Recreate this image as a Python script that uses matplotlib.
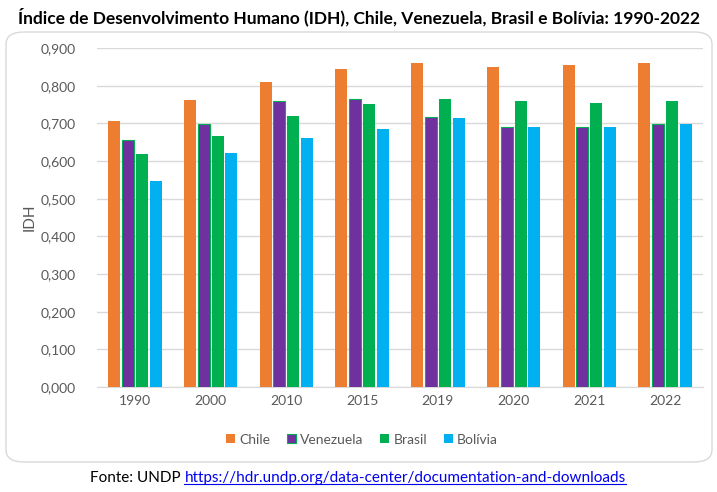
import matplotlib.pyplot as plt
import numpy as np
from matplotlib.patches import FancyBboxPatch
from matplotlib.ticker import FuncFormatter

plt.rcParams['font.family'] = ['Lato', 'DejaVu Sans']

# IDH values
anos = ['1990', '2000', '2010', '2015', '2019', '2020', '2021', '2022']
chile = [0.706, 0.762, 0.810, 0.845, 0.859, 0.850, 0.856, 0.860]
venezuela = [0.656, 0.698, 0.758, 0.765, 0.717, 0.691, 0.689, 0.699]
brasil = [0.619, 0.667, 0.720, 0.752, 0.764, 0.758, 0.755, 0.760]
bolivia = [0.546, 0.622, 0.660, 0.686, 0.713, 0.689, 0.689, 0.697]
paises = ['Chile', 'Venezuela', 'Brasil', 'Bolívia']

CORES = {
    'Chile': '#ED7D31',
    'Venezuela': '#7030A0',
    'Brasil': '#00B050',
    'Bolívia': '#00B0F0',
}

fig = plt.figure(figsize=(7.17, 4.92), dpi=100)
fig.patch.set_facecolor('white')

# rounded chart frame
frame = FancyBboxPatch((6 / 717, 1 - 462 / 492), 706 / 717, 430 / 492,
                       boxstyle='round,pad=0,rounding_size=0.025',
                       transform=fig.transFigure, facecolor='none',
                       edgecolor='#d9d9d9', linewidth=1.0, zorder=-1)
fig.patches.append(frame)

ax = fig.add_axes([97 / 717, 1 - 387 / 492, 606 / 717, 339 / 492])
ax.set_facecolor('none')

x = np.arange(len(anos))
w = 0.158
step = 0.183
series = [chile, venezuela, brasil, bolivia]
for i, (nome, vals) in enumerate(zip(paises, series)):
    off = (i - 1.5) * step
    edge = '#00B050' if nome == 'Venezuela' else CORES[nome]
    ax.bar(x + off, vals, width=w, color=CORES[nome], edgecolor=edge,
           linewidth=0.8 if nome == 'Venezuela' else 0, label=nome, zorder=3)

ax.set_xlim(-0.5, len(anos) - 0.5)
ax.set_ylim(0, 0.9)
ax.set_yticks(np.arange(0, 0.91, 0.1))
ax.yaxis.set_major_formatter(FuncFormatter(lambda v, p: f'{v:.3f}'.replace('.', ',')))
ax.set_xticks(x)
ax.set_xticklabels(anos)
ax.grid(axis='y', color='#d9d9d9', linewidth=1.0, zorder=0)
for s in ['top', 'right', 'left']:
    ax.spines[s].set_visible(False)
ax.spines['bottom'].set_color('#d9d9d9')
ax.tick_params(axis='both', length=0, colors='#595959', labelsize=10)
ax.tick_params(axis='y', pad=15)
ax.tick_params(axis='x', pad=6)
ax.set_ylabel('IDH', color='#595959', fontsize=11, labelpad=3)

leg = ax.legend(loc='center', bbox_to_anchor=(0.437, -0.155), ncol=4, frameon=False,
                handlelength=0.65, handleheight=0.65, handletextpad=0.3,
                columnspacing=1.2, fontsize=10)
for t in leg.get_texts():
    t.set_color('#595959')

fig.text(0.5, 1 - 17 / 492, 'Índice de Desenvolvimento Humano (IDH), Chile, Venezuela, Brasil e Bolívia: 1990-2022',
         ha='center', va='center', fontsize=12.5, fontweight='bold', color='black')

t1 = fig.text(90 / 717, 1 - 478 / 492, 'Fonte: UNDP ', ha='left', va='center',
              fontsize=11, color='black')
fig.canvas.draw()
bb = t1.get_window_extent()
x1 = bb.x1 / fig.bbox.width
t2 = fig.text(x1, 1 - 478 / 492, 'https://hdr.undp.org/data-center/documentation-and-downloads',
              ha='left', va='center', fontsize=11, color='#0000EE')
# underline for the link
fig.canvas.draw()
bb2 = t2.get_window_extent()
uy = (bb2.y0 + 1) / fig.bbox.height
fig.add_artist(plt.Line2D([bb2.x0 / fig.bbox.width, bb2.x1 / fig.bbox.width], [uy, uy],
                          transform=fig.transFigure, color='#0000EE', linewidth=0.8))

fig.savefig('out.png', dpi=100)
